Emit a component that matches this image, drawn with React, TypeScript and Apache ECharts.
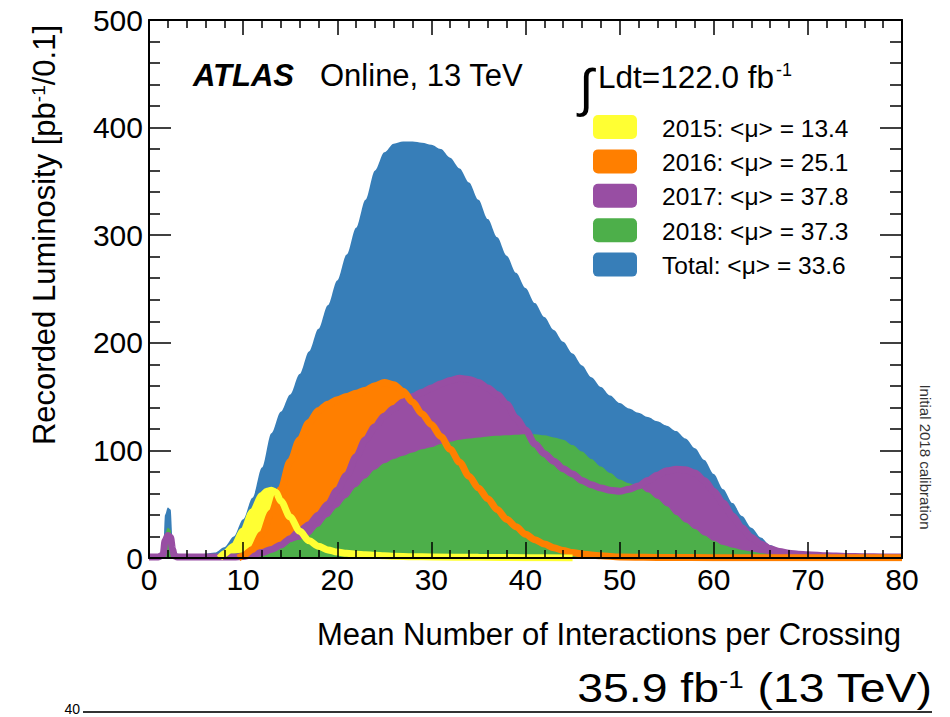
import React, { useEffect, useRef } from "react";
import * as echarts from "echarts";

const FONT = '"Liberation Sans", Arial, Helvetica, sans-serif';

// Recorded luminosity per 0.1 in <mu>, pb^-1, as [mu, value]
const LUMI_TOTAL: [number, number][] = [
  [0, 2], [1, 2], [1.5, 5], [1.7, 40], [2, 47], [2.3, 45], [2.5, 20], [2.7, 5], [3, 4],
  [4, 3], [5, 3], [6, 4], [7, 5], [8, 10], [9, 20], [10, 36], [11, 56], [12, 84], [13, 116],
  [14, 136], [15, 152], [16, 171], [17, 192], [18, 213], [19, 235], [20, 258], [21, 282],
  [22, 307], [23, 333], [24, 360], [25, 377], [26, 385], [27, 387], [28, 387], [29, 386],
  [30, 384], [31, 380], [32, 372], [33, 362], [34, 349], [35, 333], [36, 315], [37, 298],
  [38, 281], [39, 265], [40, 251], [41, 237], [42, 224], [43, 212], [44, 201], [45, 190],
  [46, 179], [47, 168], [48, 159], [49, 151], [50, 144], [51, 139], [52, 135], [53, 131],
  [54, 127], [55, 123], [56, 118], [57, 111], [58, 102], [59, 91], [60, 78], [61, 64],
  [62, 51], [63, 39], [64, 28], [65, 19], [66, 12], [67, 8], [68, 5.5], [69, 4], [70, 3],
  [72, 2], [74, 1.5], [76, 1], [78, 1], [80, 1],
];

const LUMI_2015: [number, number][] = [
  [7.5, 0], [8, 4], [9, 11], [10, 25], [11, 43], [12, 58], [12.5, 62], [13, 63], [13.5, 61],
  [14, 53], [15, 38], [16, 25], [17, 16], [18, 11], [19, 7.5], [20, 5.5], [21, 4.3],
  [22, 3.5], [23, 3], [24, 2.5], [25, 2], [26, 1.6], [28, 1.2], [30, 1], [35, 0.6],
  [40, 0.3], [45, 0],
];

const LUMI_2016: [number, number][] = [
  [9.5, 0], [10, 2], [11, 8], [12, 22], [13, 42], [14, 64], [15, 90], [16, 110], [17, 126],
  [18, 137], [19, 143], [20, 147], [21, 150], [22, 153], [23, 156], [24, 160], [25, 163],
  [26, 161], [27, 155], [28, 145], [29, 134], [30, 124], [31, 113], [32, 101], [33, 89],
  [34, 76], [35, 65], [36, 55], [37, 45], [38, 36], [39, 29], [40, 22], [41, 17], [42, 13],
  [43, 9.5], [44, 7], [45, 5], [46, 3.8], [47, 2.8], [48, 2], [50, 1], [55, 0.5], [60, 0.3],
  [70, 0.2], [80, 0.2],
];

const LUMI_2017: [number, number][] = [
  [0, 1], [1, 1], [1.5, 3], [1.7, 16], [2, 21], [2.3, 19], [2.5, 8], [2.7, 2], [3, 1],
  [4, 1], [5, 1], [6, 1], [7, 1], [8, 1], [9, 1], [10, 1.5], [11, 3], [12, 5], [13, 8],
  [14, 12], [15, 18], [16, 25], [17, 31], [18, 40], [19, 50], [20, 63], [21, 77], [22, 94],
  [23, 110], [24, 122], [25, 132], [26, 139], [27, 145], [28, 150], [29, 154], [30, 158],
  [31, 162], [32, 165], [33, 167], [34, 166], [35, 163], [36, 158], [37, 152], [38, 143],
  [39, 130], [40, 119], [41, 106], [42, 97], [43, 90], [44, 83], [45, 78], [46, 72],
  [47, 68], [48, 65], [49, 63], [50, 62], [51, 64], [52, 67], [53, 72], [54, 77], [55, 81],
  [56, 82.5], [57, 82], [58, 79], [59, 72], [60, 62], [61, 51], [62, 39], [63, 28],
  [64, 19], [65, 13], [66, 8.5], [67, 6], [68, 4.5], [69, 3.5], [70, 3], [72, 2],
  [74, 1.5], [76, 1.2], [78, 1], [80, 1],
];

const LUMI_2018: [number, number][] = [
  [0, 2], [1, 2], [1.5, 5], [1.7, 22], [2, 28], [2.3, 26], [2.5, 10], [2.7, 3], [3, 3],
  [4, 2.5], [5, 2.5], [6, 3], [7, 3], [8, 4], [9, 4], [10, 5], [11, 6], [12, 8], [13, 10],
  [14, 12], [15, 15], [16, 17], [17, 21], [18, 29], [19, 38], [20, 47], [21, 56], [22, 66],
  [23, 74], [24, 82], [25, 88], [26, 92], [27, 95], [28, 98], [29, 101], [30, 103],
  [31, 106], [32, 108], [33, 110], [34, 111], [35, 112], [36, 113], [37, 113.5], [38, 114],
  [39, 114.5], [40, 115], [41, 115], [42, 114], [43, 112], [44, 110], [45, 105], [46, 99],
  [47, 92], [48, 85], [49, 79], [50, 73], [51, 69.5], [52, 66.5], [53, 61], [54, 55],
  [55, 48], [56, 40], [57, 33], [58, 27], [59, 21], [60, 16], [61, 12], [62, 9.5],
  [63, 7.5], [64, 6], [65, 4.5], [66, 3.5], [67, 2.5], [68, 2], [69, 1.5], [70, 1],
  [72, 0.5], [74, 0.3], [76, 0.3], [78, 0.3], [80, 0.3],
];

const LEGEND_LABELS = [
  "2015: <μ> = 13.4",
  "2016: <μ> = 25.1",
  "2017: <μ> = 37.8",
  "2018: <μ> = 37.3",
  "Total: <μ> = 33.6",
];

const COLOR_2015 = "#ffff33";
const COLOR_2016 = "#ff7f00";
const COLOR_2017 = "#984ea3";
const COLOR_2018 = "#4daf4a";
const COLOR_TOTAL = "#377eb8";
const LEGEND_COLORS = [COLOR_2015, COLOR_2016, COLOR_2017, COLOR_2018, COLOR_TOTAL];

const X_MIN = 0;
const X_MAX = 80;
const X_STEP = 10;
const Y_MIN = 0;
const Y_MAX = 500;
const Y_STEP = 100;

function filled(name: string, data: [number, number][], color: string, z: number) {
  return {
    name,
    type: "line",
    data,
    smooth: 0.3,
    smoothMonotone: "x",
    symbol: "none",
    silent: true,
    z,
    lineStyle: { width: 0, color },
    itemStyle: { color },
    areaStyle: { color, opacity: 1 },
  };
}

function outline(name: string, data: [number, number][], color: string, z: number) {
  return {
    name,
    type: "line",
    data,
    smooth: 0.3,
    smoothMonotone: "x",
    symbol: "none",
    silent: true,
    z,
    lineStyle: { width: 7, color },
    itemStyle: { color },
  };
}

function frameAxis(position: string, major: number, minor: number, labels: boolean, isX: boolean) {
  return {
    type: "value",
    position,
    min: isX ? X_MIN : Y_MIN,
    max: isX ? X_MAX : Y_MAX,
    interval: isX ? X_STEP : Y_STEP,
    z: 20,
    axisLine: { show: true, onZero: false, lineStyle: { color: "#000", width: 2 } },
    axisTick: { show: true, inside: true, length: major, lineStyle: { color: "#000", width: 1.5 } },
    minorTick: { show: true, splitNumber: 5, length: minor, lineStyle: { color: "#000", width: 1.5 } },
    splitLine: { show: false },
    minorSplitLine: { show: false },
    axisLabel: {
      show: labels,
      color: "#000",
      fontFamily: FONT,
      fontSize: 30,
      margin: 6,
    },
  };
}

function buildOption() {
  const legendGraphics: any[] = [];
  LEGEND_LABELS.forEach((label, i) => {
    const cy = 127 + i * 34.4;
    legendGraphics.push({
      type: "rect",
      shape: { x: 593, y: cy - 12, width: 44, height: 24, r: 5 },
      style: { fill: LEGEND_COLORS[i] },
      z: 30,
    });
    legendGraphics.push({
      type: "text",
      x: 662,
      y: cy + 1,
      style: {
        text: label,
        fill: "#000",
        fontFamily: FONT,
        fontSize: 24.5,
        verticalAlign: "middle",
        align: "left",
      },
      z: 30,
    });
  });

  return {
    animation: false,
    backgroundColor: "#fff",
    grid: { left: 149, right: 48, top: 20, bottom: 159, containLabel: false },
    xAxis: [
      frameAxis("bottom", 16, 8, true, true),
      frameAxis("top", 15, 8, false, true),
    ],
    yAxis: [
      frameAxis("left", 22, 11, true, false),
      frameAxis("right", 22, 12, false, false),
    ],
    series: [
      filled("Total", LUMI_TOTAL, COLOR_TOTAL, 2),
      filled("2015", LUMI_2015, COLOR_2015, 3),
      filled("2016", LUMI_2016, COLOR_2016, 4),
      filled("2017", LUMI_2017, COLOR_2017, 5),
      filled("2018", LUMI_2018, COLOR_2018, 6),
      outline("2017 outline", LUMI_2017, COLOR_2017, 7),
      outline("2016 outline", LUMI_2016, COLOR_2016, 8),
      outline("2015 outline", LUMI_2015, COLOR_2015, 9),
    ],
    graphic: [
      {
        type: "text",
        x: 193,
        y: 75,
        z: 30,
        style: {
          text: "ATLAS",
          fill: "#000",
          fontFamily: FONT,
          fontSize: 31,
          fontStyle: "italic",
          fontWeight: "bold",
          verticalAlign: "middle",
        },
      },
      {
        type: "text",
        x: 320,
        y: 75,
        z: 30,
        style: {
          text: "Online, 13 TeV",
          fill: "#000",
          fontFamily: FONT,
          fontSize: 31,
          verticalAlign: "middle",
        },
      },
      {
        type: "text",
        x: 579,
        y: 88,
        z: 30,
        style: {
          text: "∫",
          fill: "#000",
          fontFamily: FONT,
          fontSize: 52,
          verticalAlign: "middle",
        },
      },
      {
        type: "text",
        x: 598,
        y: 77,
        z: 30,
        style: {
          text: "{n|Ldt=122.0 fb}{s|-1}",
          fill: "#000",
          verticalAlign: "middle",
          rich: {
            n: { fontFamily: FONT, fontSize: 31.5, fill: "#000" },
            s: { fontFamily: FONT, fontSize: 18, fill: "#000", verticalAlign: "top", padding: [0, 0, 0, 2] },
          },
        },
      },
      ...legendGraphics,
      {
        type: "text",
        x: 44,
        y: 235,
        rotation: Math.PI / 2,
        z: 30,
        style: {
          text: "{n|Recorded Luminosity [pb}{s|-1}{n|/0.1]}",
          fill: "#000",
          align: "center",
          verticalAlign: "middle",
          rich: {
            n: { fontFamily: FONT, fontSize: 31, fill: "#000" },
            s: { fontFamily: FONT, fontSize: 19, fill: "#000", verticalAlign: "top" },
          },
        },
      },
      {
        type: "text",
        x: 901,
        y: 634,
        z: 30,
        style: {
          text: "Mean Number of Interactions per Crossing",
          fill: "#000",
          fontFamily: FONT,
          fontSize: 31,
          align: "right",
          verticalAlign: "middle",
        },
      },
      {
        type: "text",
        x: 925,
        y: 457,
        rotation: -Math.PI / 2,
        z: 30,
        style: {
          text: "Initial 2018 calibration",
          fill: "#333",
          fontFamily: FONT,
          fontSize: 15,
          align: "center",
          verticalAlign: "middle",
        },
      },
      {
        type: "text",
        x: 932,
        y: 688,
        scaleX: 1.16,
        z: 30,
        style: {
          text: "{n|35.9 fb}{s|-1}{n| (13 TeV)}",
          fill: "#000",
          align: "right",
          verticalAlign: "middle",
          rich: {
            n: { fontFamily: FONT, fontSize: 40, fill: "#000" },
            s: { fontFamily: FONT, fontSize: 24, fill: "#000", verticalAlign: "top" },
          },
        },
      },
      {
        type: "line",
        z: 30,
        shape: { x1: 83, y1: 712, x2: 932, y2: 712 },
        style: { stroke: "#333", lineWidth: 2 },
      },
      {
        type: "text",
        x: 80,
        y: 716,
        z: 30,
        style: {
          text: "40",
          fill: "#000",
          fontFamily: FONT,
          fontSize: 14,
          align: "right",
          verticalAlign: "bottom",
        },
      },
    ],
  };
}

export default function App() {
  const ref = useRef<HTMLDivElement>(null);

  useEffect(() => {
    if (!ref.current) return;
    const chart = echarts.init(ref.current, null, { renderer: "svg" });
    chart.setOption(buildOption() as any);
    return () => chart.dispose();
  }, []);

  return (
    <div
      ref={ref}
      style={{ position: "absolute", left: 0, top: 0, width: 950, height: 717, background: "#fff" }}
    />
  );
}
